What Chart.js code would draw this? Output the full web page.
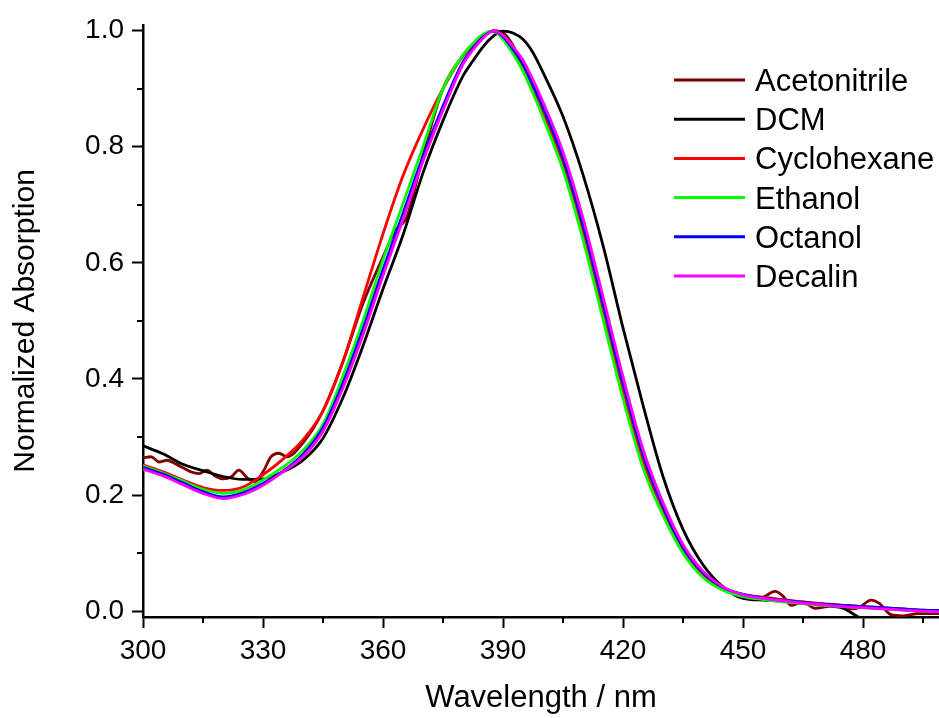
<!DOCTYPE html>
<html>
<head>
<meta charset="utf-8">
<script src="https://cdn.jsdelivr.net/npm/chart.js@4.4.1/dist/chart.umd.min.js"></script>
<style>
  html, body { margin: 0; padding: 0; background: #fff; }
  canvas { display: block; }
</style>
</head>
<body>
<canvas id="absChart" width="939" height="718"></canvas>
<script>
// Wavelength grid (nm) shared by the smooth spectra
const wavelength = [300, 305, 310, 315, 320, 325, 330, 335, 340, 345, 350, 355, 360, 365, 370, 375, 380,
  382.5, 385, 387.5, 390, 392.5, 395, 397.5, 400,
  405, 410, 415, 420, 425, 430, 435, 440, 445, 450, 455, 460, 465, 470, 475, 480, 485, 490, 495, 500];

// Normalized absorption per solvent
const dcm = [0.285, 0.271, 0.253, 0.242, 0.232, 0.227, 0.228, 0.240, 0.260, 0.298, 0.368, 0.457, 0.555, 0.648, 0.755, 0.845, 0.922,
  0.948, 0.972, 0.990, 0.999, 0.996, 0.985, 0.962, 0.928,
  0.852, 0.752, 0.630, 0.488, 0.355, 0.232, 0.141, 0.080, 0.042, 0.022, 0.019, 0.017, 0.013, 0.010, 0.005, -0.014, -0.018, -0.018, -0.018, -0.018];
const cyclohexane = [0.252, 0.240, 0.226, 0.213, 0.208, 0.214, 0.235, 0.262, 0.295, 0.345, 0.430, 0.540, 0.650, 0.750, 0.830, 0.900, 0.957,
  0.975, 0.990, 0.999, 0.988, 0.965, 0.938, 0.900, 0.860,
  0.770, 0.652, 0.515, 0.378, 0.257, 0.170, 0.104, 0.062, 0.040, 0.029, 0.024, 0.020, 0.016, 0.013, 0.010, 0.008, 0.006, 0.004, 0.002, 0.001];
const ethanol = [0.250, 0.238, 0.224, 0.210, 0.203, 0.209, 0.226, 0.248, 0.277, 0.322, 0.405, 0.500, 0.605, 0.702, 0.800, 0.900, 0.958,
  0.978, 0.994, 0.999, 0.985, 0.960, 0.930, 0.892, 0.850,
  0.760, 0.640, 0.503, 0.366, 0.247, 0.165, 0.100, 0.058, 0.036, 0.025, 0.020, 0.016, 0.013, 0.010, 0.008, 0.006, 0.004, 0.002, 0.000, -0.001];
const octanol = [0.248, 0.236, 0.221, 0.206, 0.197, 0.204, 0.220, 0.241, 0.270, 0.316, 0.393, 0.486, 0.588, 0.685, 0.783, 0.870, 0.946,
  0.970, 0.989, 0.999, 0.990, 0.968, 0.943, 0.906, 0.868,
  0.780, 0.665, 0.530, 0.393, 0.270, 0.180, 0.110, 0.066, 0.041, 0.029, 0.023, 0.019, 0.015, 0.012, 0.010, 0.008, 0.006, 0.004, 0.002, 0.001];
const decalin = [0.245, 0.233, 0.218, 0.203, 0.194, 0.201, 0.217, 0.240, 0.266, 0.310, 0.385, 0.476, 0.578, 0.675, 0.775, 0.863, 0.942,
  0.967, 0.987, 0.999, 0.992, 0.972, 0.949, 0.915, 0.877,
  0.791, 0.677, 0.542, 0.404, 0.279, 0.187, 0.115, 0.069, 0.042, 0.028, 0.022, 0.018, 0.014, 0.011, 0.008, 0.006, 0.004, 0.002, 0.000, -0.001];

// Acetonitrile is noisy, so it keeps its own finer grid
const acnWavelength = [300, 302, 304, 306, 308, 310, 312, 314, 316, 318, 320, 322, 324, 326, 328, 330, 332, 334, 336,
  340, 345, 350, 355, 360, 363, 366, 370, 375, 380, 385, 388, 391, 395, 400,
  405, 410, 415, 420, 425, 430, 435, 440,
  444, 448, 452, 455, 458, 460, 462, 465, 468, 471, 474, 477, 479, 482, 484, 487, 490, 494, 500];
const acetonitrile = [0.264, 0.266, 0.257, 0.260, 0.254, 0.247, 0.240, 0.237, 0.243, 0.233, 0.228, 0.231, 0.243, 0.230, 0.223, 0.240, 0.266, 0.272, 0.266,
  0.290, 0.345, 0.430, 0.530, 0.610, 0.655, 0.680, 0.785, 0.900, 0.957, 0.990, 1.000, 0.990, 0.940, 0.862,
  0.772, 0.655, 0.518, 0.380, 0.260, 0.172, 0.105, 0.062,
  0.044, 0.030, 0.022, 0.024, 0.034, 0.026, 0.010, 0.016, 0.005, 0.008, 0.010, 0.004, 0.006, 0.019, 0.014, -0.006, -0.008, -0.004, -0.004];

const solventNames = ['Acetonitrile', 'DCM', 'Cyclohexane', 'Ethanol', 'Octanol', 'Decalin'];
const solventColors = ['#800000', '#000000', '#ff0000', '#00ff00', '#0000ff', '#ff00ff'];

// Axis ticks
const xTicks = [300, 330, 360, 390, 420, 450, 480];
const xMinorTicks = [315, 345, 375, 405, 435, 465, 495];
const yTicks = [0.0, 0.2, 0.4, 0.6, 0.8, 1.0];
const yMinorTicks = [0.1, 0.3, 0.5, 0.7, 0.9];

const FONT = '"Liberation Sans", Arial, sans-serif';

function toPoints(xs, ys) {
  return xs.map((x, i) => ({ x: x, y: ys[i] }));
}

const seriesPoints = [
  toPoints(acnWavelength, acetonitrile),
  toPoints(wavelength, dcm),
  toPoints(wavelength, cyclohexane),
  toPoints(wavelength, ethanol),
  toPoints(wavelength, octanol),
  toPoints(wavelength, decalin)
];

// minor tick marks (Chart.js has no minor ticks)
const minorTicksPlugin = {
  id: 'minorTicks',
  afterDraw(chart) {
    const { ctx, chartArea, scales } = chart;
    ctx.save();
    ctx.strokeStyle = '#000';
    ctx.lineWidth = 2;
    ctx.beginPath();
    xMinorTicks.forEach(v => {
      const px = Math.round(scales.x.getPixelForValue(v));
      ctx.moveTo(px, chartArea.bottom);
      ctx.lineTo(px, chartArea.bottom + 6);
    });
    yMinorTicks.forEach(v => {
      const py = Math.round(scales.y.getPixelForValue(v));
      ctx.moveTo(chartArea.left, py);
      ctx.lineTo(chartArea.left - 6, py);
    });
    ctx.stroke();
    ctx.restore();
  }
};

// legend inside the plot, top right
const insideLegendPlugin = {
  id: 'insideLegend',
  afterDraw(chart) {
    const ctx = chart.ctx;
    ctx.save();
    ctx.font = '31px ' + FONT;
    ctx.textBaseline = 'alphabetic';
    chart.data.datasets.forEach((ds, i) => {
      const y = 80 + i * 39.2;
      ctx.strokeStyle = ds.borderColor;
      ctx.lineWidth = 3;
      ctx.beginPath();
      ctx.moveTo(674, y);
      ctx.lineTo(745, y);
      ctx.stroke();
      ctx.fillStyle = '#000';
      ctx.fillText(ds.label, 755, y + 11);
    });
    ctx.restore();
  }
};

const ctx = document.getElementById('absChart').getContext('2d');
new Chart(ctx, {
  type: 'line',
  data: {
    datasets: solventNames.map((name, i) => ({
      label: name,
      data: seriesPoints[i],
      borderColor: solventColors[i],
      backgroundColor: solventColors[i],
      borderWidth: 2.8,
      pointRadius: 0,
      fill: false,
      cubicInterpolationMode: 'monotone',
      order: solventNames.length - i
    }))
  },
  options: {
    responsive: false,
    animation: false,
    devicePixelRatio: 1,
    layout: { padding: { top: 24, right: 0, bottom: 0, left: 0 } },
    plugins: {
      legend: { display: false },
      tooltip: { enabled: false }
    },
    scales: {
      x: {
        type: 'linear',
        min: 300,
        max: 499,
        afterBuildTicks: axis => { axis.ticks = xTicks.map(v => ({ value: v })); },
        afterFit: axis => { axis.height = 101; },
        border: { display: true, color: '#000', width: 2.5 },
        grid: { drawOnChartArea: false, drawTicks: true, tickLength: 11, tickWidth: 2, tickColor: '#000' },
        ticks: {
          autoSkip: false,
          maxRotation: 0,
          padding: 6,
          color: '#000',
          font: { family: FONT, size: 28 },
          callback: v => String(v)
        },
        title: {
          display: true,
          text: 'Wavelength / nm',
          color: '#000',
          font: { family: FONT, size: 31 },
          padding: { top: 0, bottom: 1 }
        }
      },
      y: {
        type: 'linear',
        min: -0.01,
        max: 1.01,
        afterBuildTicks: axis => { axis.ticks = yTicks.map(v => ({ value: v })); },
        afterFit: axis => { axis.width = 143; },
        border: { display: true, color: '#000', width: 2.5 },
        grid: { drawOnChartArea: false, drawTicks: true, tickLength: 11, tickWidth: 2, tickColor: '#000' },
        ticks: {
          autoSkip: false,
          padding: 8,
          color: '#000',
          font: { family: FONT, size: 28 },
          callback: v => v.toFixed(1)
        },
        title: {
          display: true,
          text: 'Normalized Absorption',
          color: '#000',
          font: { family: FONT, size: 30 },
          padding: { top: 8, bottom: 0 }
        }
      }
    }
  },
  plugins: [minorTicksPlugin, insideLegendPlugin]
});
</script>
</body>
</html>
